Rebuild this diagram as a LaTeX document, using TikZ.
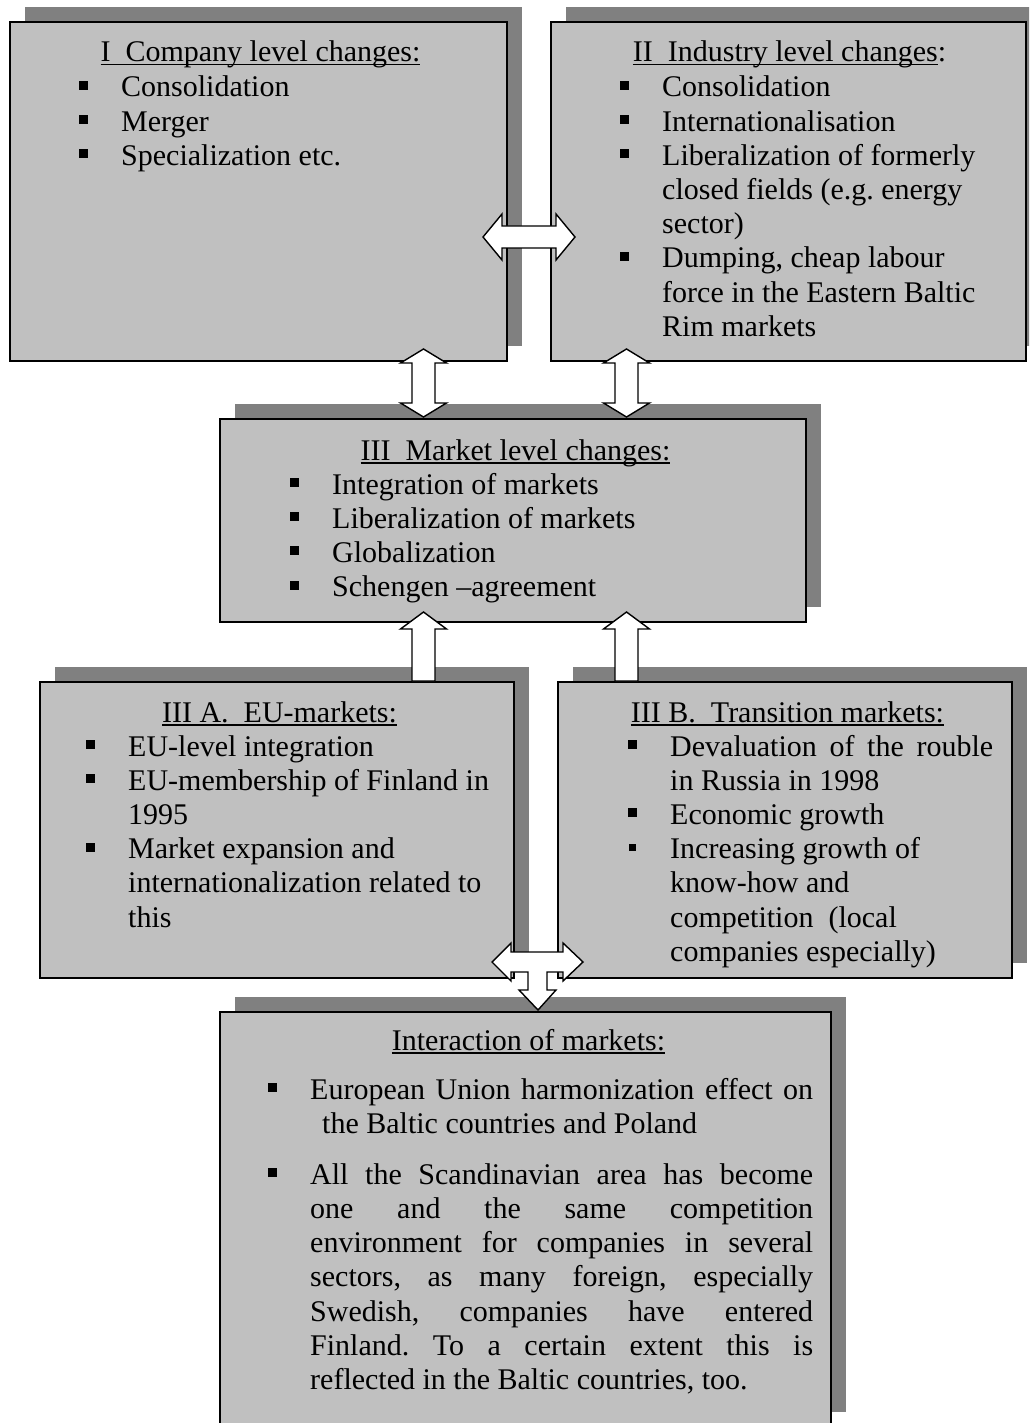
\documentclass[tikz,border=0pt]{standalone}
\usepackage{fontspec}
\setmainfont{Liberation Serif}
\usetikzlibrary{shadows}
\definecolor{boxgray}{RGB}{192,192,192}
\definecolor{shadowgray}{RGB}{128,128,128}
\frenchspacing
\newcommand\bodyfont{\fontsize{30}{34.2}\selectfont}
\newsavebox\ulbox
\newcommand\hul[1]{\sbox\ulbox{#1}\rlap{\rule[-3.5pt]{\wd\ulbox}{1.5pt}}\usebox\ulbox}
\newcommand\bul{\makebox[42pt][l]{\raisebox{7pt}{\rule{9pt}{9pt}}}}
\newcommand\sbul{\makebox[42pt][l]{\hspace{1pt}\raisebox{7.5pt}{\rule{7pt}{7pt}}}}
\newcommand\ind{\hspace*{42pt}}
\newcommand\lines[1]{\parbox[t]{700pt}{\bodyfont\frenchspacing #1}}
\begin{document}
\begin{tikzpicture}[x=1pt,y=-1pt,
  box/.style={draw=black, line width=1.4pt, fill=boxgray, inner sep=0pt,
    general shadow={fill=shadowgray, shadow xshift=15pt, shadow yshift=15pt}},
  blockarrow/.style={draw=black, fill=white, line width=1.4pt},
  hdr/.style={anchor=base, inner sep=0pt, font=\bodyfont},
  txt/.style={anchor=base west, inner sep=0pt}]
\useasboundingbox (0,0) rectangle (1029,1423);
\clip (0,0) rectangle (1029,1423);
\fill[white] (0,0) rectangle (1029,1423);

% boxes
\node[box, minimum width=497pt, minimum height=339pt] (b1) at (258.5,191.5) {};
\node[box, minimum width=475pt, minimum height=339pt] (b2) at (788.5,191.5) {};
\node[box, minimum width=586pt, minimum height=203pt] (b3) at (513,520.5) {};
\node[box, minimum width=474pt, minimum height=296pt] (b4) at (277,830) {};
\node[box, minimum width=454pt, minimum height=296pt] (b5) at (785,830) {};
\node[box, minimum width=611pt, minimum height=415pt] (b6) at (525.5,1219.5) {};

% block arrows
% I <-> II
\draw[blockarrow] (483,237) -- (502,214) -- (502,226) -- (556,226) -- (556,214) -- (575,237)
  -- (556,260) -- (556,248) -- (502,248) -- (502,260) -- cycle;
% I <-> III
\draw[blockarrow] (423.5,349) -- (446.5,363) -- (435,363) -- (435,403) -- (446.5,403) -- (423.5,417)
  -- (400.5,403) -- (412,403) -- (412,363) -- (400.5,363) -- cycle;
% II <-> III
\draw[blockarrow] (626.5,349) -- (649.5,363) -- (638,363) -- (638,403) -- (649.5,403) -- (626.5,417)
  -- (603.5,403) -- (615,403) -- (615,363) -- (603.5,363) -- cycle;
% IIIA -> III
\draw[blockarrow] (423.5,612) -- (446.5,629) -- (435,629) -- (435,681) -- (412,681) -- (412,629)
  -- (400.5,629) -- cycle;
% IIIB -> III
\draw[blockarrow] (626.5,612) -- (649.5,629) -- (638,629) -- (638,681) -- (615,681) -- (615,629)
  -- (603.5,629) -- cycle;
% T arrow IIIA <-> IIIB, down to interaction
\draw[blockarrow] (492,962) -- (511,943) -- (511,952) -- (563,952) -- (563,943) -- (583,962)
  -- (563,981) -- (563,972) -- (547,972) -- (547,990) -- (556,990) -- (538,1010)
  -- (519,990) -- (528,990) -- (528,972) -- (511,972) -- (511,981) -- cycle;

% headers
\node[hdr] (h1) at (260.5,62) {\hul{I~~Company level changes:}};
\node[hdr] (h2) at (789.5,62) {\hul{II~~Industry level changes}:};
\node[hdr] (h3) at (515.5,460) {\hul{III~~Market level changes:}};
\node[hdr] (h4) at (279.5,722) {\hul{III A.~~EU-markets:}};
\node[hdr] (h5) at (787.5,722) {\hul{III B.~~Transition markets:}};
\node[hdr] (h6) at (528.5,1050) {\hul{Interaction of markets:}};

% lists
\node[txt] (l1) at (79,97) {\lines{\bul Consolidation\\ \bul Merger\\ \bul Specialization etc.}};
\node[txt] (l2) at (620,97) {\lines{\bul Consolidation\\ \bul Internationalisation\\
  \bul Liberalization of formerly\\ \ind closed fields (e.g. energy\\ \ind sector)\\
  \bul Dumping, cheap labour\\ \ind force in the Eastern Baltic\\ \ind Rim markets}};
\node[txt] (l3) at (290,494) {\lines{\bul Integration of markets\\ \bul Liberalization of markets\\
  \bul Globalization\\ \bul Schengen --agreement}};
\node[txt] (l4) at (86,756) {\lines{\bul EU-level integration\\ \bul EU-membership of Finland in\\
  \ind 1995\\ \bul Market expansion and\\ \ind internationalization related to\\ \ind this}};
\node[txt] (l5) at (628,756) {\lines{\bul\makebox[323pt][s]{Devaluation of the rouble}\\
  \ind in Russia in 1998\\ \bul Economic growth\\ \sbul Increasing growth of\\
  \ind know-how and\\ \ind competition~~(local\\ \ind companies especially)}};
\node[txt] (l6) at (268,1099) {\lines{\bul\makebox[503pt][s]{European Union harmonization effect on}\\
  \hspace*{54pt}the Baltic countries and Poland\\[16.8pt]
  \bul\makebox[503pt][s]{All the Scandinavian area has become}\\
  \ind\makebox[503pt][s]{one and the same competition}\\
  \ind\makebox[503pt][s]{environment for companies in several}\\
  \ind\makebox[503pt][s]{sectors, as many foreign, especially}\\
  \ind\makebox[503pt][s]{Swedish, companies have entered}\\
  \ind\makebox[503pt][s]{Finland. To a certain extent this is}\\
  \ind reflected in the Baltic countries, too.}};
\end{tikzpicture}
\end{document}
